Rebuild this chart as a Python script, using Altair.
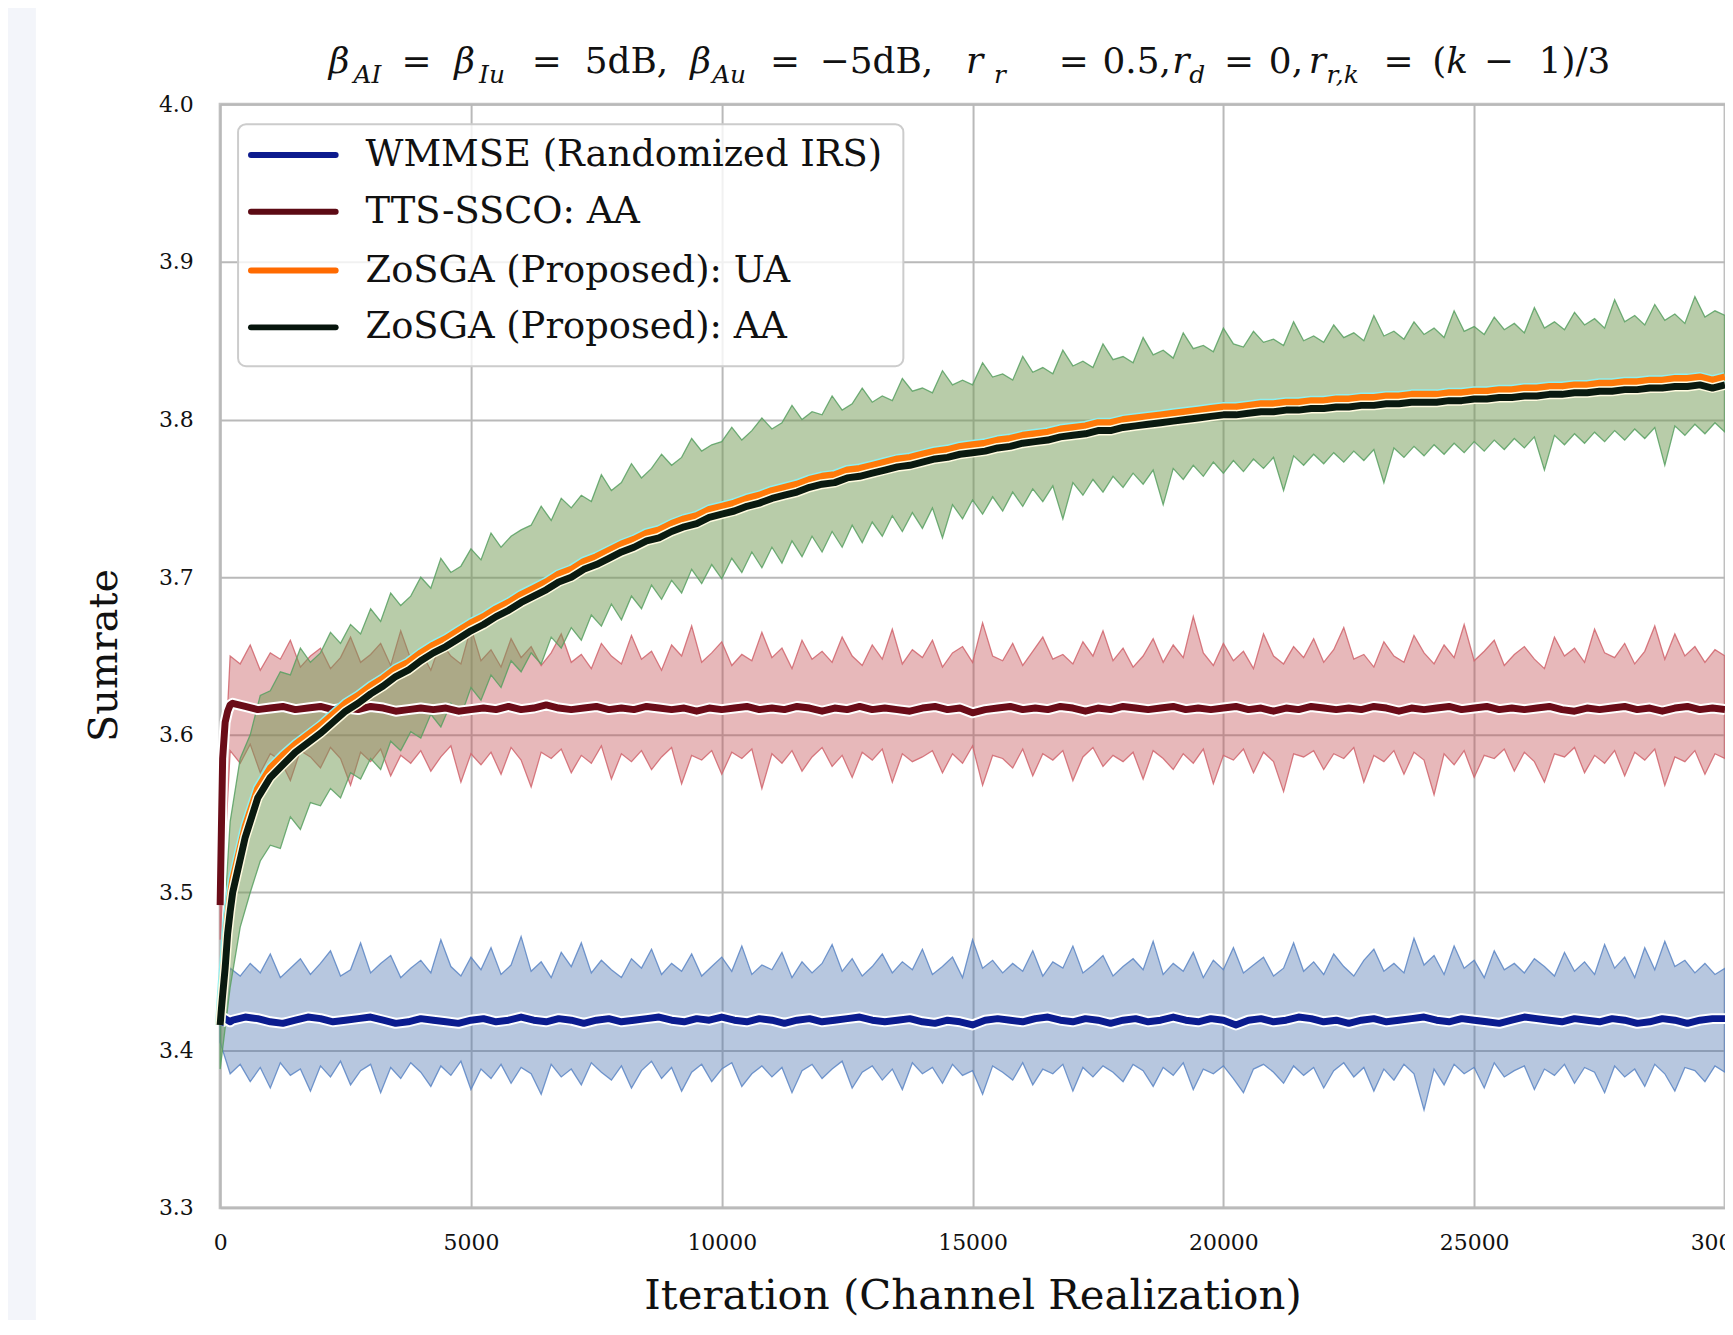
import altair as alt
import pandas as pd

# ---------------- data ----------------
X_BAND = list(range(0, 30001, 200))
X_MEAN = [0, 25, 50, 100, 150, 200] + list(range(250, 30001, 250))

SERIES = ["WMMSE (Randomized IRS)", "TTS-SSCO: AA", "ZoSGA (Proposed): UA", "ZoSGA (Proposed): AA"]
X_TICKS = [0, 5000, 10000, 15000, 20000, 25000, 30000]
Y_TICKS = [3.3, 3.4, 3.5, 3.6, 3.7, 3.8, 3.9, 4.0]

WMMSE_MEAN = [3.416, 3.418, 3.419, 3.420, 3.419, 3.418,
    3.419, 3.421, 3.420, 3.418, 3.417, 3.419, 3.421, 3.420, 3.418, 3.419,
    3.420, 3.421, 3.419, 3.417, 3.418, 3.420, 3.419, 3.418, 3.417, 3.419,
    3.420, 3.418, 3.419, 3.421, 3.419, 3.418, 3.420, 3.419, 3.417, 3.419,
    3.420, 3.418, 3.419, 3.420, 3.421, 3.419, 3.418, 3.420, 3.419, 3.421,
    3.419, 3.418, 3.420, 3.419, 3.417, 3.419, 3.420, 3.418, 3.419, 3.420,
    3.421, 3.419, 3.418, 3.419, 3.420, 3.418, 3.417, 3.419, 3.418, 3.416,
    3.419, 3.420, 3.419, 3.418, 3.420, 3.421, 3.419, 3.418, 3.420, 3.419,
    3.417, 3.419, 3.420, 3.418, 3.419, 3.421, 3.419, 3.418, 3.420, 3.419,
    3.416, 3.419, 3.420, 3.418, 3.419, 3.421, 3.420, 3.418, 3.419, 3.417,
    3.419, 3.420, 3.418, 3.419, 3.420, 3.421, 3.419, 3.418, 3.420, 3.419,
    3.418, 3.417, 3.419, 3.421, 3.420, 3.419, 3.418, 3.420, 3.419, 3.418,
    3.420, 3.419, 3.417, 3.418, 3.420, 3.419, 3.417, 3.419, 3.420, 3.420]

TTS_MEAN = [3.492, 3.540, 3.585, 3.608, 3.615, 3.619,
    3.620, 3.618, 3.616, 3.617, 3.618, 3.616, 3.617, 3.618, 3.616, 3.617,
    3.616, 3.618, 3.617, 3.615, 3.616, 3.617, 3.616, 3.617, 3.615, 3.616,
    3.617, 3.616, 3.618, 3.616, 3.617, 3.619, 3.617, 3.616, 3.617, 3.618,
    3.616, 3.617, 3.616, 3.618, 3.617, 3.616, 3.617, 3.615, 3.617, 3.616,
    3.617, 3.618, 3.616, 3.617, 3.616, 3.618, 3.617, 3.615, 3.617, 3.616,
    3.618, 3.616, 3.617, 3.616, 3.615, 3.617, 3.618, 3.616, 3.617, 3.614,
    3.616, 3.617, 3.618, 3.616, 3.617, 3.616, 3.618, 3.617, 3.615, 3.617,
    3.616, 3.618, 3.617, 3.616, 3.617, 3.618, 3.616, 3.617, 3.616, 3.617,
    3.618, 3.616, 3.617, 3.615, 3.617, 3.616, 3.618, 3.617, 3.616, 3.617,
    3.616, 3.618, 3.617, 3.615, 3.617, 3.616, 3.617, 3.618, 3.616, 3.617,
    3.618, 3.616, 3.617, 3.616, 3.617, 3.618, 3.616, 3.615, 3.617, 3.616,
    3.617, 3.618, 3.616, 3.617, 3.615, 3.617, 3.618, 3.616, 3.617, 3.616]

ZOSGA_UA_MEAN = [3.416, 3.430, 3.442, 3.462, 3.484, 3.497,
    3.508, 3.542, 3.566, 3.579, 3.587, 3.594, 3.600, 3.606, 3.613, 3.620,
    3.625, 3.631, 3.636, 3.642, 3.646, 3.652, 3.657, 3.661, 3.666, 3.671,
    3.675, 3.680, 3.684, 3.689, 3.693, 3.697, 3.702, 3.705, 3.710, 3.713,
    3.717, 3.721, 3.724, 3.728, 3.730, 3.734, 3.737, 3.739, 3.743, 3.745,
    3.747, 3.750, 3.752, 3.755, 3.757, 3.759, 3.762, 3.764, 3.765, 3.768,
    3.769, 3.771, 3.773, 3.775, 3.776, 3.778, 3.780, 3.781, 3.783, 3.784,
    3.785, 3.787, 3.788, 3.790, 3.791, 3.792, 3.794, 3.795, 3.796, 3.798,
    3.798, 3.800, 3.801, 3.802, 3.803, 3.804, 3.805, 3.806, 3.807, 3.808,
    3.808, 3.809, 3.810, 3.810, 3.811, 3.811, 3.812, 3.812, 3.813, 3.813,
    3.814, 3.814, 3.815, 3.815, 3.816, 3.816, 3.816, 3.817, 3.817, 3.818,
    3.818, 3.819, 3.819, 3.820, 3.820, 3.821, 3.821, 3.822, 3.822, 3.823,
    3.823, 3.824, 3.824, 3.825, 3.825, 3.826, 3.826, 3.827, 3.825, 3.827]

ZOSGA_AA_MEAN = [3.416, 3.426, 3.435, 3.452, 3.474, 3.488,
    3.500, 3.535, 3.560, 3.573, 3.581, 3.589, 3.595, 3.601, 3.608, 3.615,
    3.620, 3.626, 3.631, 3.637, 3.641, 3.647, 3.652, 3.656, 3.661, 3.666,
    3.670, 3.675, 3.679, 3.684, 3.688, 3.692, 3.697, 3.700, 3.705, 3.708,
    3.712, 3.716, 3.719, 3.723, 3.725, 3.729, 3.732, 3.734, 3.738, 3.740,
    3.742, 3.745, 3.747, 3.750, 3.752, 3.754, 3.757, 3.759, 3.760, 3.763,
    3.764, 3.766, 3.768, 3.770, 3.771, 3.773, 3.775, 3.776, 3.778, 3.779,
    3.780, 3.782, 3.783, 3.785, 3.786, 3.787, 3.789, 3.790, 3.791, 3.793,
    3.793, 3.795, 3.796, 3.797, 3.798, 3.799, 3.800, 3.801, 3.802, 3.803,
    3.803, 3.804, 3.805, 3.805, 3.806, 3.806, 3.807, 3.807, 3.808, 3.808,
    3.809, 3.809, 3.810, 3.810, 3.811, 3.811, 3.811, 3.812, 3.812, 3.813,
    3.813, 3.814, 3.814, 3.815, 3.815, 3.816, 3.816, 3.817, 3.817, 3.818,
    3.818, 3.819, 3.819, 3.820, 3.820, 3.821, 3.821, 3.822, 3.820, 3.822]

WMMSE_HI = [3.420, 3.452, 3.447, 3.455, 3.449, 3.461, 3.446, 3.452, 3.458, 3.448,
    3.455, 3.463, 3.447, 3.451, 3.468, 3.449, 3.455, 3.460, 3.446, 3.452,
    3.457, 3.449, 3.470, 3.453, 3.447, 3.459, 3.451, 3.465, 3.448, 3.454,
    3.472, 3.450, 3.456, 3.446, 3.462, 3.453, 3.468, 3.449, 3.457, 3.451,
    3.446, 3.458, 3.452, 3.464, 3.448, 3.455, 3.450, 3.461, 3.447, 3.453,
    3.459, 3.450, 3.466, 3.448, 3.454, 3.451, 3.462, 3.446, 3.456, 3.449,
    3.455, 3.467, 3.450, 3.458, 3.447, 3.453, 3.461, 3.449, 3.456, 3.451,
    3.464, 3.448, 3.453, 3.459, 3.446, 3.470, 3.452, 3.457, 3.449, 3.455,
    3.450, 3.463, 3.447, 3.456, 3.452, 3.466, 3.449, 3.454, 3.460, 3.447,
    3.453, 3.458, 3.451, 3.469, 3.448, 3.455, 3.450, 3.462, 3.446, 3.457,
    3.451, 3.465, 3.449, 3.454, 3.459, 3.447, 3.452, 3.468, 3.450, 3.456,
    3.448, 3.461, 3.453, 3.447, 3.457, 3.464, 3.450, 3.455, 3.449, 3.471,
    3.454, 3.460, 3.448, 3.466, 3.452, 3.457, 3.446, 3.463, 3.451, 3.455,
    3.449, 3.458, 3.453, 3.447, 3.462, 3.450, 3.456, 3.448, 3.467, 3.452,
    3.459, 3.446, 3.465, 3.451, 3.469, 3.453, 3.457, 3.449, 3.455, 3.448,
    3.452]

WMMSE_LO = [3.405, 3.385, 3.391, 3.380, 3.389, 3.376, 3.392, 3.384, 3.388, 3.374,
    3.390, 3.383, 3.393, 3.378, 3.387, 3.391, 3.373, 3.389, 3.382, 3.392,
    3.386, 3.377, 3.390, 3.384, 3.393, 3.375, 3.388, 3.382, 3.391, 3.379,
    3.389, 3.385, 3.372, 3.391, 3.383, 3.388, 3.378, 3.392, 3.386, 3.381,
    3.390, 3.376, 3.387, 3.393, 3.382, 3.389, 3.374, 3.386, 3.391, 3.380,
    3.388, 3.392, 3.377, 3.385, 3.390, 3.383, 3.389, 3.373, 3.387, 3.391,
    3.382, 3.388, 3.393, 3.376, 3.386, 3.390, 3.381, 3.388, 3.375, 3.392,
    3.385, 3.389, 3.379, 3.391, 3.384, 3.387, 3.372, 3.390, 3.386, 3.381,
    3.392, 3.378, 3.388, 3.385, 3.391, 3.374, 3.389, 3.383, 3.390, 3.386,
    3.380, 3.391, 3.387, 3.377, 3.389, 3.384, 3.392, 3.375, 3.388, 3.385,
    3.390, 3.382, 3.373, 3.388, 3.391, 3.386, 3.379, 3.390, 3.384, 3.389,
    3.376, 3.387, 3.392, 3.383, 3.389, 3.374, 3.388, 3.381, 3.391, 3.385,
    3.362, 3.388, 3.378, 3.391, 3.385, 3.389, 3.376, 3.392, 3.383, 3.387,
    3.390, 3.375, 3.388, 3.384, 3.391, 3.379, 3.389, 3.386, 3.373, 3.390,
    3.383, 3.388, 3.377, 3.391, 3.385, 3.374, 3.389, 3.387, 3.380, 3.390,
    3.386]

TTS_HI = [3.520, 3.650, 3.645, 3.657, 3.641, 3.652, 3.648, 3.660, 3.643, 3.650,
    3.655, 3.642, 3.649, 3.662, 3.646, 3.651, 3.658, 3.644, 3.666, 3.648,
    3.653, 3.641, 3.659, 3.650, 3.645, 3.668, 3.647, 3.654, 3.643, 3.661,
    3.649, 3.656, 3.644, 3.652, 3.664, 3.646, 3.651, 3.642, 3.658, 3.650,
    3.645, 3.663, 3.648, 3.653, 3.641, 3.657, 3.650, 3.669, 3.646, 3.652,
    3.659, 3.644, 3.651, 3.647, 3.665, 3.649, 3.655, 3.642, 3.660, 3.648,
    3.653, 3.646, 3.662, 3.650, 3.644, 3.657, 3.648, 3.667, 3.645, 3.654,
    3.649, 3.660, 3.643, 3.652, 3.656, 3.646, 3.671, 3.650, 3.647, 3.658,
    3.644, 3.653, 3.662, 3.648, 3.651, 3.645, 3.659, 3.650, 3.666, 3.647,
    3.655, 3.643, 3.650, 3.661, 3.646, 3.657, 3.649, 3.675, 3.652, 3.644,
    3.658, 3.647, 3.653, 3.642, 3.664, 3.650, 3.645, 3.656, 3.649, 3.661,
    3.646, 3.654, 3.668, 3.648, 3.651, 3.643, 3.659, 3.650, 3.646, 3.663,
    3.652, 3.645, 3.657, 3.649, 3.670, 3.647, 3.653, 3.660, 3.644, 3.651,
    3.656, 3.648, 3.642, 3.662, 3.650, 3.655, 3.646, 3.667, 3.652, 3.649,
    3.658, 3.645, 3.653, 3.669, 3.648, 3.664, 3.650, 3.656, 3.646, 3.654,
    3.650]

TTS_LO = [3.470, 3.590, 3.582, 3.594, 3.576, 3.588, 3.584, 3.571, 3.590, 3.586,
    3.579, 3.592, 3.585, 3.568, 3.589, 3.583, 3.591, 3.574, 3.587, 3.582,
    3.590, 3.577, 3.586, 3.593, 3.570, 3.588, 3.581, 3.589, 3.575, 3.592,
    3.584, 3.567, 3.589, 3.585, 3.591, 3.576, 3.587, 3.582, 3.593, 3.572,
    3.588, 3.583, 3.590, 3.578, 3.586, 3.592, 3.569, 3.587, 3.584, 3.590,
    3.575, 3.589, 3.585, 3.591, 3.566, 3.588, 3.582, 3.590, 3.577, 3.586,
    3.592, 3.580, 3.587, 3.573, 3.589, 3.584, 3.591, 3.570, 3.588, 3.583,
    3.586, 3.590, 3.576, 3.588, 3.582, 3.593, 3.568, 3.587, 3.585, 3.579,
    3.591, 3.574, 3.588, 3.584, 3.590, 3.571, 3.586, 3.592, 3.580, 3.587,
    3.583, 3.589, 3.572, 3.590, 3.585, 3.578, 3.588, 3.582, 3.591, 3.569,
    3.587, 3.584, 3.591, 3.576, 3.589, 3.583, 3.564, 3.588, 3.586, 3.590,
    3.578, 3.588, 3.585, 3.592, 3.570, 3.587, 3.583, 3.590, 3.575, 3.589,
    3.584, 3.562, 3.588, 3.581, 3.590, 3.573, 3.587, 3.585, 3.591, 3.577,
    3.589, 3.583, 3.570, 3.588, 3.586, 3.592, 3.576, 3.587, 3.582, 3.590,
    3.574, 3.589, 3.584, 3.591, 3.568, 3.586, 3.583, 3.590, 3.575, 3.588,
    3.585]

ZOSGA_HI = [3.440, 3.545, 3.585, 3.600, 3.625, 3.628, 3.640, 3.638, 3.655, 3.646,
    3.652, 3.665, 3.658, 3.670, 3.664, 3.680, 3.672, 3.690, 3.682, 3.688,
    3.700, 3.693, 3.712, 3.703, 3.707, 3.718, 3.711, 3.728, 3.719, 3.726,
    3.730, 3.733, 3.745, 3.736, 3.750, 3.744, 3.752, 3.748, 3.765, 3.755,
    3.760, 3.772, 3.763, 3.769, 3.778, 3.771, 3.776, 3.788, 3.780, 3.784,
    3.786, 3.795, 3.787, 3.793, 3.801, 3.794, 3.798, 3.809, 3.800, 3.805,
    3.803, 3.815, 3.806, 3.810, 3.820, 3.811, 3.815, 3.812, 3.826, 3.818,
    3.820, 3.817, 3.831, 3.822, 3.825, 3.822, 3.836, 3.827, 3.829, 3.825,
    3.840, 3.830, 3.833, 3.829, 3.844, 3.834, 3.837, 3.833, 3.848, 3.838,
    3.840, 3.836, 3.852, 3.841, 3.844, 3.839, 3.855, 3.845, 3.847, 3.843,
    3.858, 3.848, 3.846, 3.856, 3.849, 3.851, 3.847, 3.862, 3.850, 3.853,
    3.849, 3.860, 3.852, 3.855, 3.850, 3.866, 3.853, 3.856, 3.851, 3.862,
    3.854, 3.858, 3.852, 3.869, 3.856, 3.859, 3.854, 3.865, 3.857, 3.861,
    3.855, 3.871, 3.858, 3.862, 3.857, 3.868, 3.860, 3.864, 3.858, 3.876,
    3.862, 3.866, 3.860, 3.873, 3.863, 3.867, 3.861, 3.878, 3.865, 3.869,
    3.866]

ZOSGA_LO = [3.388, 3.440, 3.478, 3.500, 3.520, 3.530, 3.528, 3.548, 3.540, 3.557,
    3.555, 3.566, 3.560, 3.576, 3.572, 3.585, 3.578, 3.596, 3.590, 3.602,
    3.598, 3.613, 3.605, 3.620, 3.612, 3.630, 3.622, 3.638, 3.630, 3.647,
    3.640, 3.652, 3.645, 3.662, 3.655, 3.668, 3.660, 3.676, 3.669, 3.683,
    3.673, 3.688, 3.680, 3.695, 3.686, 3.698, 3.690, 3.705, 3.696, 3.708,
    3.699, 3.712, 3.703, 3.716, 3.706, 3.719, 3.709, 3.723, 3.713, 3.726,
    3.716, 3.729, 3.719, 3.733, 3.722, 3.735, 3.726, 3.739, 3.729, 3.741,
    3.731, 3.744, 3.725, 3.746, 3.737, 3.749, 3.740, 3.751, 3.742, 3.754,
    3.745, 3.756, 3.748, 3.758, 3.737, 3.760, 3.752, 3.762, 3.754, 3.764,
    3.757, 3.766, 3.759, 3.768, 3.746, 3.769, 3.762, 3.771, 3.764, 3.773,
    3.766, 3.774, 3.767, 3.775, 3.769, 3.776, 3.755, 3.777, 3.771, 3.778,
    3.772, 3.779, 3.773, 3.780, 3.774, 3.781, 3.760, 3.782, 3.776, 3.783,
    3.777, 3.784, 3.778, 3.785, 3.779, 3.786, 3.780, 3.787, 3.781, 3.788,
    3.782, 3.789, 3.768, 3.790, 3.784, 3.791, 3.785, 3.792, 3.786, 3.793,
    3.787, 3.794, 3.788, 3.795, 3.771, 3.796, 3.790, 3.797, 3.791, 3.798,
    3.792]

# ---------------- styling / layout ----------------
FONT = "DejaVu Serif"
W, H = 1511, 1108
PLOT_X0, PLOT_Y0 = 221, 102   # page position of plot origin

LINE_COLORS = ["#0b1c8f", "#6a0c18", "#ff7a0a", "#0a1a10"]
LEGEND_COLORS = ["#0d1b8e", "#5c0a14", "#ff6a00", "#06140c"]

xscale = alt.Scale(domain=[0, 30000], nice=False, zero=False)
yscale = alt.Scale(domain=[3.3, 4.0], nice=False, zero=False)

xaxis = alt.Axis(values=X_TICKS, format="d", title="Iteration (Channel Realization)",
                 grid=True, ticks=False, domain=False, labelFlush=False, labelOverlap=False,
                 labelFont=FONT, labelFontSize=22, labelColor="#111111", labelPadding=25,
                 titleFont=FONT, titleFontSize=42, titleFontWeight="normal", titleColor="#111111",
                 titleY=88, titleBaseline="middle",
                 gridColor="#b9b9b9", gridWidth=2)
yaxis = alt.Axis(values=Y_TICKS, format=".1f", title="Sumrate",
                 grid=True, ticks=False, domain=False, labelFlush=False, labelOverlap=False,
                 labelFont=FONT, labelFontSize=22, labelColor="#111111", labelPadding=27,
                 titleFont=FONT, titleFontSize=40, titleFontWeight="normal", titleColor="#111111",
                 titleAngle=270, titleX=-116, titleY=553, titleAlign="center", titleBaseline="middle",
                 gridColor="#b9b9b9", gridWidth=2)

ONE = pd.DataFrame({"k": [0]})


def band(lo, hi, fill, op, edge):
    df = pd.DataFrame({"x": X_BAND, "lo": lo, "hi": hi})
    return alt.Chart(df).mark_area(fill=fill, fillOpacity=op, stroke=edge, strokeWidth=1.3,
                                   strokeOpacity=0.85).encode(
        x=alt.X("x:Q", scale=xscale, axis=xaxis),
        y=alt.Y("lo:Q", scale=yscale, axis=yaxis),
        y2="hi:Q")


def mean_line(vals, color, halo, width=7, halo_width=11):
    df = pd.DataFrame({"x": X_MEAN, "y": vals})
    enc = dict(x=alt.X("x:Q", scale=xscale, axis=xaxis), y=alt.Y("y:Q", scale=yscale, axis=yaxis))
    h = alt.Chart(df).mark_line(color=halo, strokeWidth=halo_width, strokeJoin="round").encode(**enc)
    l = alt.Chart(df).mark_line(color=color, strokeWidth=width, strokeJoin="round").encode(**enc)
    return [h, l]


layers = []
# light strip at the far left of the page
layers.append(alt.Chart(ONE).mark_rect(color="#f3f5fa").encode(
    x=alt.value(-PLOT_X0), x2=alt.value(36 - PLOT_X0),
    y=alt.value(-PLOT_Y0), y2=alt.value(1335 - PLOT_Y0)))

layers.append(band(WMMSE_LO, WMMSE_HI, "#4c72b0", 0.4, "#5a85c4"))
layers.append(band(TTS_LO, TTS_HI, "#c44e52", 0.4, "#d0646c"))
layers.append(band(ZOSGA_LO, ZOSGA_HI, "#719953", 0.5, "#58a062"))

layers += mean_line(WMMSE_MEAN, LINE_COLORS[0], "white")
layers += mean_line(TTS_MEAN, LINE_COLORS[1], "white")
layers += mean_line(ZOSGA_UA_MEAN, LINE_COLORS[2], "#8ff0f0", width=7, halo_width=10)
layers += mean_line(ZOSGA_AA_MEAN, LINE_COLORS[3], "#fffbe0", width=7, halo_width=10)

# legend (drawn manually)
layers.append(alt.Chart(ONE).mark_rect(fill="white", fillOpacity=0.8, stroke="#cccccc",
                                       strokeWidth=2, cornerRadius=8).encode(
    x=alt.value(18), x2=alt.value(686), y=alt.value(20), y2=alt.value(263)))
LEG_Y = [51, 108, 167, 224]
for name, col, yy in zip(SERIES, LEGEND_COLORS, LEG_Y):
    layers.append(alt.Chart(ONE).mark_rule(color=col, strokeWidth=6, strokeCap="round").encode(
        x=alt.value(31), x2=alt.value(116), y=alt.value(yy)))
    layers.append(alt.Chart(ONE).mark_text(text=name, font=FONT, fontSize=37, align="left",
                                           baseline="middle", color="#111111").encode(
        x=alt.value(146), y=alt.value(yy)))

# title with sub-scripts (page x positions of each piece)
TITLE_SEGS = [
    (330, "β", "mi"), (355, "AI", "s"), (403, "=", "m"), (456, "β", "mi"), (481, "Iu", "s"),
    (534, "=", "m"), (587, "5dB,", "m"), (693, "β", "mi"), (715, "Au", "s"), (773, "=", "m"),
    (823, "−5dB,", "m"), (970, "r", "mi"), (998, "r", "s"), (1063, "=", "m"), (1107, "0.5,", "m"),
    (1177, "r", "mi"), (1194, "d", "s"), (1229, "=", "m"), (1274, "0,", "m"), (1314, "r", "mi"),
    (1332, "r,k", "s"), (1389, "=", "m"), (1438, "(", "m"), (1452, "k", "mi"), (1490, "−", "m"),
    (1545, "1)/3", "m"),
]
for px, txt, kind in TITLE_SEGS:
    size = 25 if kind == "s" else 36
    style = "normal" if kind == "m" else "italic"
    base_y = (81 if kind == "s" else 71) - PLOT_Y0
    layers.append(alt.Chart(ONE).mark_text(text=txt, font=FONT, fontSize=size, fontStyle=style,
                                           align="left", baseline="alphabetic",
                                           color="#111111").encode(
        x=alt.value(px - PLOT_X0), y=alt.value(base_y)))

chart = alt.layer(*layers).properties(
    width=W, height=H,
    autosize=alt.AutoSizeParams(type="none"),
    padding={"left": PLOT_X0 - 8, "top": PLOT_Y0 - 8, "right": 0, "bottom": 110},
    background="white",
).configure_view(stroke="#c4c4c4", strokeWidth=3)

chart.save("out.html", embed_options={"renderer": "svg", "actions": False})
